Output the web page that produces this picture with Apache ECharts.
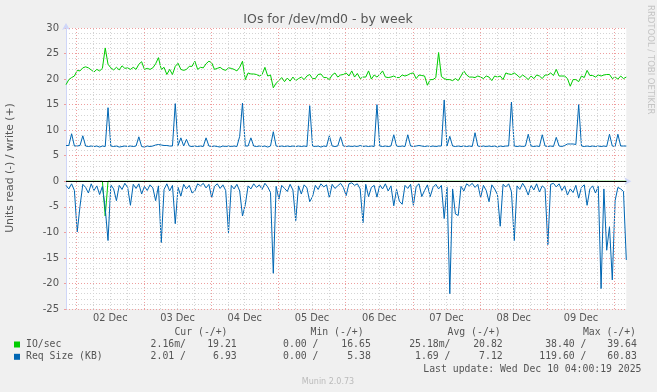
<!DOCTYPE html>
<html><head><meta charset="utf-8">
<script src="https://cdn.jsdelivr.net/npm/echarts@6/dist/echarts.min.js"></script>
<style>html,body{margin:0;padding:0;background:#f0f0f0;}#c{width:657px;height:392px;}</style>
</head><body><div id="c"></div>
<script>
// time axis: hours since 01 Dec 00:00, one sample per hour
const startHour = 20.2;
const stepHours = 1;
const dayLabels = ['02 Dec','03 Dec','04 Dec','05 Dec','06 Dec','07 Dec','08 Dec','09 Dec'];
const dayLabelHours = [36,60,84,108,132,156,180,204];
const dayLineHours = [24,48,72,96,120,144,168,192,216];

// IO/sec write (+)
const ioWrite = [
18.9,19.9,20.3,20.6,21.7,21.6,22.2,22.4,22.2,21.8,21.4,21.9,21.6,22.1,26.1,22.9,22.2,21.8,22.3,21.8,
22.6,22.1,22.2,21.9,22.3,21.9,22.9,23.4,21.9,22.1,21.9,22.2,23.0,24.2,21.9,22.3,20.9,21.9,20.9,22.5,
23.1,21.9,21.7,21.9,22.5,22.5,23.5,21.9,22.3,22.2,23.0,23.5,23.2,21.9,22.1,22.3,21.9,21.7,22.2,22.1,
21.9,21.6,22.3,23.5,19.9,21.2,21.0,21.0,20.9,20.6,20.9,22.3,20.6,20.8,18.3,19.2,19.7,20.3,19.5,20.2,
19.6,20.4,19.7,20.1,20.4,19.9,20.6,20.9,20.1,20.1,20.9,21.0,20.3,20.3,19.9,20.8,21.2,20.4,20.8,20.9,
21.2,20.6,21.6,20.4,21.1,20.1,20.4,20.4,21.6,20.0,20.8,20.4,20.9,21.6,20.4,20.3,20.4,20.6,20.3,20.3,
20.8,20.6,20.8,21.1,21.2,20.1,20.8,20.7,20.6,18.8,19.9,19.9,20.3,25.2,20.5,20.1,19.9,19.9,19.7,20.1,
19.7,20.6,21.6,20.8,20.4,20.4,20.3,20.6,20.4,20.1,20.6,20.4,19.7,20.6,20.4,20.6,19.9,21.2,21.0,20.9,
21.2,20.8,20.3,20.8,20.4,19.9,20.6,20.1,20.8,20.6,20.1,20.8,20.8,21.2,20.7,21.9,20.6,20.6,20.6,20.1,
18.6,19.9,19.9,19.5,20.6,20.3,21.7,20.7,20.7,20.4,20.8,20.6,20.8,20.9,20.9,20.1,20.4,20.0,20.6,20.1,
20.4];
// IO/sec read (-)
const ioRead = [
0,0,0,0,0,0,0,0,0,0,0,0,0,0,6.8,0,0,0,0,0,
0,0,0,0,0,0,0,0,0,0,0,0,0,0,0,0,0,0,0,0,
0,0,0,0,0,0,0,0,0,0,0,0,0,0,0,0,0,0,0,0,
0,0,0,0,0,0,0,0,0,0,0,0,0,0,0,0,0,0,0,0,
0,0,0,0,0,0,0,0,0,0,0,0,0,0,0,0,0,0,0,0,
0,0,0,0,0,0,0,0,0,0,0,0,0,0,0,0,0,0,0,0,
0,0,0,0,0,0,0,0,0,0,0,0,0,0,0,0,0,0,0,0,
0,0,0,0,0,0,0,0,0,0,0,0,0,0,0,0,0,0,0,0,
0,0,0,0,0,0,0,0,0,0,0,0,0,0,0,0,0,0,0,0,
0,0,0,0,0,0,0,0,0,0,0,0,0,0,0,0,0,0,0,0,
0];
// Req Size (KB) write (+)
const reqWrite = [
7.0,7.0,9.3,6.9,6.9,7.0,8.9,6.9,6.8,6.9,6.8,6.9,6.7,6.9,6.8,14.4,6.9,6.8,6.9,6.7,
6.8,6.9,6.8,6.9,6.8,6.9,8.7,6.8,6.7,6.9,6.8,6.9,7.1,7.2,7.1,7.0,7.0,6.9,6.9,15.2,
7.0,8.5,6.9,8.2,6.9,6.8,6.9,6.8,6.9,6.8,8.5,6.9,6.8,6.9,6.8,6.7,6.9,6.8,6.9,6.8,
6.9,6.8,8.8,15.3,6.9,6.9,8.5,6.9,6.8,6.9,6.8,6.9,6.7,6.9,9.7,6.9,6.8,6.9,6.8,6.9,
6.8,6.9,6.8,6.9,6.8,6.9,6.8,14.8,6.9,6.8,6.9,6.7,6.9,6.8,8.9,6.9,6.8,6.9,8.7,6.9,
6.8,6.9,6.8,6.9,6.8,7.0,6.8,6.9,6.8,6.9,6.8,15.0,6.9,6.8,6.9,6.8,6.9,9.1,6.9,6.8,
6.9,6.8,9.1,6.9,6.8,6.9,7.0,6.9,6.8,6.9,6.8,6.9,6.8,6.9,6.9,15.9,6.9,8.8,6.9,6.8,
6.9,6.8,6.9,6.8,6.9,6.8,9.5,6.9,6.8,6.9,6.8,6.9,6.8,6.9,6.7,6.9,6.8,6.9,6.9,15.5,
6.9,6.8,6.9,6.8,6.9,9.2,6.9,6.8,6.9,6.8,9.1,6.9,6.8,6.9,6.8,8.6,6.9,6.8,7.0,7.3,
7.3,7.3,7.2,15.0,6.9,6.8,6.9,6.8,6.9,6.8,6.9,6.8,6.9,6.8,9.2,6.9,6.8,9.2,6.9,6.9,
6.9];
// Req Size (KB) read (-)
const reqRead = [
0.8,1.5,0.5,1.8,9.9,4.9,0.6,1.2,2.3,0.5,1.8,0.9,2.6,1.0,5.3,11.6,0.7,1.5,3.8,0.8,
1.6,0.4,1.2,4.7,0.6,1.4,0.5,2.5,1.0,1.8,0.7,1.3,3.8,0.9,12.0,1.6,0.5,1.9,0.8,8.3,
1.2,2.9,0.6,1.5,0.8,2.3,1.9,0.5,0.9,0.4,1.3,0.6,3.2,1.0,0.5,1.4,0.7,1.8,10.1,0.8,
1.5,0.6,1.9,6.8,4.6,0.9,1.5,0.5,1.2,0.7,1.6,0.4,1.1,2.2,18.0,1.0,3.5,0.8,1.4,2.0,
0.6,1.7,7.7,0.9,2.5,0.7,1.3,4.0,3.0,0.8,1.6,0.5,1.1,0.7,3.2,0.6,1.4,0.9,0.4,1.2,
2.8,0.5,0.3,0.8,0.5,1.5,8.1,0.6,3.0,1.2,0.8,3.1,0.7,1.5,0.5,1.9,0.9,4.8,1.6,3.9,
4.5,0.8,1.4,0.6,4.7,1.0,0.5,3.0,1.8,0.7,3.0,1.2,0.6,1.5,0.8,7.3,1.2,22.0,1.5,6.4,
6.7,1.0,1.9,0.5,0.9,0.4,1.2,0.6,3.2,0.8,1.8,4.0,0.7,1.5,2.6,8.8,0.6,1.1,0.5,2.0,
11.6,0.9,1.6,0.4,1.3,2.7,0.8,1.7,0.5,2.1,0.9,1.4,12.4,0.6,0.4,1.1,0.5,1.8,0.9,2.7,
1.5,2.2,0.8,3.3,1.2,0.7,4.7,1.5,0.9,2.3,1.0,21.0,1.5,13.5,8.9,19.3,3.8,1.2,1.5,2.0,
15.4];

const legendHeaders = ['Cur (-/+)','Min (-/+)','Avg (-/+)','Max (-/+)'];
const ioStats  = ['2.16m/','19.21','0.00 /','16.65','25.18m/','20.82','38.40 /','39.64'];
const reqStats = ['2.01 /','6.93','0.00 /','5.38','1.69 /','7.12','119.60 /','60.83'];
const lastUpdate = 'Last update: Wed Dec 10 04:00:19 2025';

const GREEN = '#00CC00', BLUE = '#0066B3';
const MGRID = '#ee9e9e', GRID = '#d4d4d4';
const pts = arr => arr.map((v, i) => [startHour + i * stepHours, v]);
const neg = arr => arr.map((v, i) => [startHour + i * stepHours, -v]);
const endHour = startHour + (ioWrite.length - 1) * stepHours;

const minorV = [];
for (let h = dayLineHours[0] - 24; h <= endHour; h += 6) {
  if (h > startHour && h % 24 !== 0) minorV.push(h);
}

const mono = '9.8px "DejaVu Sans Mono"';
const txtCol = '#555';
const graphics = [];
function t(text, x, y, align, font, fill, rot) {
  graphics.push({type: 'text', x: x, y: y, rotation: rot || 0, silent: true,
    style: {text: text, x: 0, y: 0, font: font || mono, fill: fill || txtCol,
      textAlign: align || 'left', align: align || 'left', textVerticalAlign: 'middle', verticalAlign: 'middle'}});
}
t('IOs for /dev/md0 - by week', 328, 20, 'center', '12.5px "DejaVu Sans"');
t('Units read (-) / write (+)', 10, 168, 'center', '10.8px "DejaVu Sans"', txtCol, Math.PI / 2);
t('RRDTOOL / TOBI OETIKER', 650, 5, 'left', '8.5px "DejaVu Sans"', '#c4c4c4', -Math.PI / 2);
const headerRight = [227.5, 363.6, 500.6, 636];
legendHeaders.forEach((h, k) => t(h, headerRight[k], 332.7, 'right'));
const colRight = [186, 236.7, 318.5, 370.8, 450.5, 502.7, 586.5, 636.8];
t('IO/sec', 26, 344.5);
ioStats.forEach((s, k) => t(s, colRight[k], 344.5, 'right'));
t('Req Size (KB)', 26, 356.8);
reqStats.forEach((s, k) => t(s, colRight[k], 356.8, 'right'));
t(lastUpdate, 641.5, 369, 'right');
t('Munin 2.0.73', 328, 381.5, 'center', '8px "DejaVu Sans"', '#bbbbbb');
graphics.push({type: 'rect', shape: {x: 14, y: 341.5, width: 6, height: 6}, style: {fill: GREEN}, silent: true});
graphics.push({type: 'rect', shape: {x: 14, y: 353.8, width: 6, height: 6}, style: {fill: BLUE}, silent: true});

const chart = echarts.init(document.getElementById('c'), null, {renderer: 'canvas'});
const vLine = (h) => ({xAxis: h});
chart.setOption({
  animation: false,
  backgroundColor: '#f0f0f0',
  grid: {left: 66, right: 30.7, top: 28, height: 281, show: true, backgroundColor: '#ffffff', borderWidth: 0},
  xAxis: {
    type: 'value', min: startHour, max: endHour,
    splitLine: {show: false},
    axisLine: {show: true, lineStyle: {color: '#CFD6F8', width: 1}, symbol: ['none', 'arrow'], symbolSize: [6, 7], symbolOffset: [0, 5]},
    axisTick: {show: true, customValues: dayLineHours, length: 2, lineStyle: {color: MGRID}},
    axisLabel: {customValues: dayLabelHours, margin: 4, color: txtCol, fontFamily: 'DejaVu Sans', fontSize: 9.8,
      formatter: v => dayLabels[dayLabelHours.indexOf(v)] || ''}
  },
  yAxis: {
    type: 'value', min: -25, max: 30, interval: 5,
    axisLine: {show: true, lineStyle: {color: '#CFD6F8', width: 1}, symbol: ['none', 'arrow'], symbolSize: [6, 7], symbolOffset: [0, 5]},
    axisTick: {show: true, length: 2, lineStyle: {color: MGRID}},
    minorTick: {show: false, splitNumber: 5},
    axisLabel: {margin: 7, color: txtCol, fontFamily: 'DejaVu Sans', fontSize: 10},
    splitLine: {show: true, lineStyle: {color: MGRID, width: 1, type: [1, 2]}},
    minorSplitLine: {show: true, lineStyle: {color: GRID, width: 1, type: [1, 2]}}
  },
  graphic: graphics,
  series: [
    {type: 'line', data: [], z: 1, silent: true,
      markLine: {silent: true, symbol: 'none', label: {show: false}, animation: false,
        lineStyle: {color: GRID, width: 1, type: [1, 2]}, data: minorV.map(vLine)}},
    {type: 'line', data: [], z: 1, silent: true,
      markLine: {silent: true, symbol: 'none', label: {show: false}, animation: false,
        lineStyle: {color: MGRID, width: 1, type: [1, 2]}, data: dayLineHours.map(vLine)}},
    {name: 'IO/sec read', type: 'line', data: neg(ioRead), showSymbol: false, z: 3, lineStyle: {color: GREEN, width: 1}, itemStyle: {color: GREEN}},
    {name: 'IO/sec write', type: 'line', data: pts(ioWrite), showSymbol: false, z: 3, lineStyle: {color: GREEN, width: 1}, itemStyle: {color: GREEN}},
    {name: 'Req read', type: 'line', data: neg(reqRead), showSymbol: false, z: 4, lineStyle: {color: BLUE, width: 1}, itemStyle: {color: BLUE}},
    {name: 'Req write', type: 'line', data: pts(reqWrite), showSymbol: false, z: 4, lineStyle: {color: BLUE, width: 1}, itemStyle: {color: BLUE}},
    {type: 'line', data: [], z: 6, silent: true,
      markLine: {silent: true, symbol: 'none', label: {show: false}, animation: false,
        lineStyle: {color: '#000000', width: 1, type: 'solid'}, data: [{yAxis: 0}]}}
  ]
});
</script>
</body></html>
